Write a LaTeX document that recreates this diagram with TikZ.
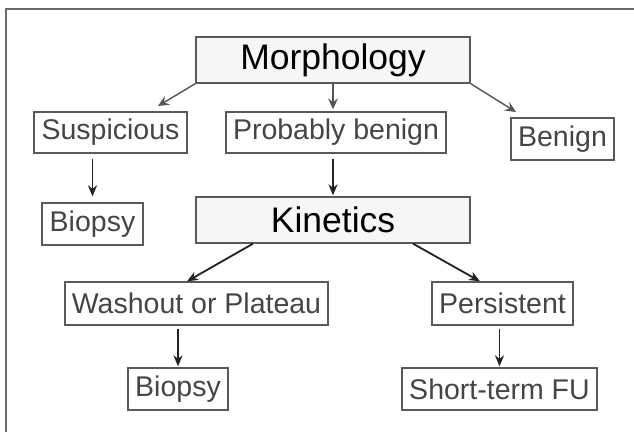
\documentclass[tikz,border=0pt]{standalone}
\usepackage{fontspec}
\setmainfont{Liberation Sans}
\usetikzlibrary{arrows.meta}
\definecolor{boxline}{HTML}{5A5A5A}
\definecolor{boxtext}{HTML}{454545}
\definecolor{titlefill}{HTML}{F6F6F6}
\definecolor{framecol}{HTML}{6A6A6A}
\definecolor{arrowgrey}{HTML}{555555}
\definecolor{arrowdark}{HTML}{222222}
\tikzset{
  plainbox/.style={draw=boxline, line width=1.3pt, inner sep=0pt, text=boxtext,
    font=\fontsize{28.5}{30}\selectfont},
  titlebox/.style={draw=boxline, line width=1.3pt, inner sep=0pt, fill=titlefill, text=black,
    font=\fontsize{35.5}{38}\selectfont},
  toparrow/.style={draw=arrowgrey, line width=1.4pt, -{Stealth[length=11pt,width=10pt,inset=4pt]}},
  lowarrow/.style={draw=arrowdark, line width=1.8pt, -{Stealth[length=11pt,width=9pt,inset=3.5pt]}},
}
\begin{document}
\begin{tikzpicture}[x=1pt,y=-1pt]
\useasboundingbox (0,0) rectangle (634,432);
\fill[white] (0,0) rectangle (634,432);
\draw[framecol, line width=2pt] (6,432) -- (6,9) -- (634,9);

\node[titlebox, minimum width=274pt, minimum height=46pt] (morph) at (333,60) {Morphology};
\node[plainbox, minimum width=153pt, minimum height=41pt] (susp) at (110.5,132.5) {Suspicious};
\node[plainbox, minimum width=220pt, minimum height=41pt] (prob) at (336,132.5) {Probably benign};
\node[plainbox, minimum width=103pt, minimum height=42pt] (benign) at (562.5,139) {Benign};
\node[plainbox, minimum width=101pt, minimum height=42pt] (biop1) at (92.5,224) {Biopsy};
\node[titlebox, minimum width=274pt, minimum height=46pt] (kin) at (333,220) {Kinetics};
\node[plainbox, minimum width=263pt, minimum height=43pt] (wash) at (196.5,303.5) {Washout or Plateau};
\node[plainbox, minimum width=141pt, minimum height=43pt] (pers) at (502.5,303.5) {Persistent};
\node[plainbox, minimum width=100pt, minimum height=42pt] (biop2) at (178,389) {Biopsy};
\node[plainbox, minimum width=195pt, minimum height=42pt] (stfu) at (499.5,389) {Short-term FU};

\coordinate (tipL) at (158,106);
\coordinate (tipR) at (516,112);
\draw[toparrow] (morph.south west) -- (tipL);
\draw[toparrow, shorten >=2pt] (morph.south) -- (morph.south |- prob.north);
\draw[toparrow] (morph.south east) -- (tipR);

\draw[lowarrow, shorten <=5pt, shorten >=6pt] (susp.south -| biop1.north) -- (biop1.north);
\draw[lowarrow, shorten <=5pt, shorten >=1pt] (prob.south -| kin.north) -- (kin.north);
\draw[lowarrow] ([xshift=-80pt]kin.south) -- ([xshift=-9.5pt]wash.north);
\draw[lowarrow] ([xshift=80pt]kin.south) -- ([xshift=-22.5pt]pers.north);
\draw[lowarrow, shorten <=3pt, shorten >=1pt] (wash.south -| biop2.north) -- (biop2.north);
\draw[lowarrow, shorten <=3pt, shorten >=1pt] (pers.south -| stfu.north) -- (stfu.north);
\end{tikzpicture}
\end{document}
